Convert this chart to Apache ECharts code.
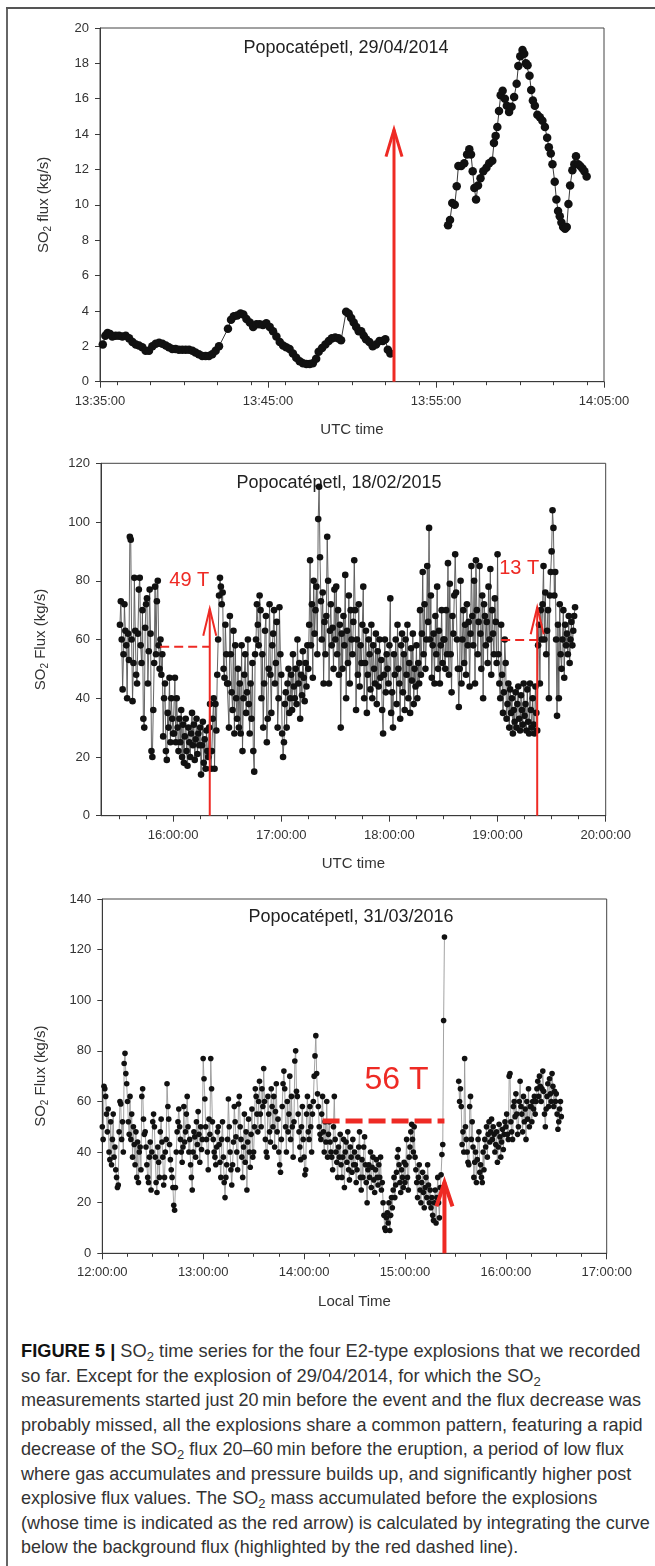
<!DOCTYPE html>
<html><head><meta charset="utf-8">
<script src="https://cdn.jsdelivr.net/npm/echarts@6/dist/echarts.min.js"></script>
<style>
html,body{margin:0;padding:0;background:#fff;}
#wrap{position:relative;width:655px;height:1566px;overflow:hidden;background:#fff;}
#chart{position:absolute;left:0;top:0;width:655px;height:1330px;}
#frameL{position:absolute;left:6px;top:7px;width:2px;height:1559px;background:#666;}
#frameT{position:absolute;left:6px;top:7px;width:649px;height:2px;background:#555;}
.cap{position:absolute;left:21px;white-space:nowrap;transform-origin:0 50%;font-family:'Liberation Sans',Arial,sans-serif;font-size:18.5px;color:#333;height:24px;line-height:24px;}
.cap b{color:#111;}
.cap sub{font-size:0.72em;vertical-align:-0.28em;line-height:0;}
</style></head>
<body><div id="wrap">
<div id="chart"></div>
<div id="frameL"></div><div id="frameT"></div>
<div id="caption">
<div class="cap"><b>FIGURE 5 |</b> SO<sub>2</sub> time series for the four E2-type explosions that we recorded</div>
<div class="cap">so far. Except for the explosion of 29/04/2014, for which the SO<sub>2</sub></div>
<div class="cap">measurements started just 20&#8201;min before the event and the flux decrease was</div>
<div class="cap">probably missed, all the explosions share a common pattern, featuring a rapid</div>
<div class="cap">decrease of the SO<sub>2</sub> flux 20–60&#8201;min before the eruption, a period of low flux</div>
<div class="cap">where gas accumulates and pressure builds up, and significantly higher post</div>
<div class="cap">explosive flux values. The SO<sub>2</sub> mass accumulated before the explosions</div>
<div class="cap">(whose time is indicated as the red arrow) is calculated by integrating the curve</div>
<div class="cap">below the background flux (highlighted by the red dashed line).</div>
</div>
</div>
<script>
// ---------------- DATA ----------------
// Panel 1: Popocatépetl 29/04/2014 (UTC)
const P1_TITLE = 'Popocatépetl, 29/04/2014';
const P1_XTICKS = ['13:35:00','13:45:00','13:55:00','14:05:00'];
const P1_YMAX = 20, P1_YSTEP = 2;
const P1A_TIME = ['13:35:10','13:35:19','13:35:27','13:35:36','13:35:44','13:35:56','13:36:08','13:36:20','13:36:32','13:36:44','13:36:56','13:37:08','13:37:19','13:37:31','13:37:43','13:37:55','13:38:07','13:38:19','13:38:31','13:38:43','13:38:55','13:39:06','13:39:18','13:39:30','13:39:42','13:39:54','13:40:06','13:40:18','13:40:30','13:40:41','13:40:53','13:41:05','13:41:17','13:41:29','13:41:41','13:41:53','13:42:05','13:42:37','13:42:48','13:42:58','13:43:10','13:43:22','13:43:32','13:43:43','13:43:55','13:44:07','13:44:19','13:44:30','13:44:42','13:44:54','13:45:06','13:45:18','13:45:30','13:45:42','13:45:54','13:46:05','13:46:17','13:46:29','13:46:41','13:46:53','13:47:05','13:47:17','13:47:29','13:47:40','13:47:52','13:48:01','13:48:13','13:48:25','13:48:37','13:48:48','13:49:00','13:49:12','13:49:21','13:49:39','13:49:48','13:49:57','13:50:06','13:50:15','13:50:24','13:50:33','13:50:42','13:50:50','13:51:02','13:51:14','13:51:26','13:51:38','13:51:50','13:51:59','13:52:08','13:52:17'];
const P1A_FLUX = [2.1,2.6,2.75,2.7,2.55,2.6,2.6,2.55,2.6,2.45,2.25,2.1,2.05,1.95,1.75,1.75,2.0,2.15,2.2,2.15,2.05,1.95,1.85,1.85,1.8,1.8,1.8,1.8,1.75,1.65,1.55,1.45,1.45,1.45,1.55,1.75,2.0,3.0,3.5,3.7,3.75,3.85,3.8,3.55,3.35,3.1,3.25,3.25,3.2,3.3,3.1,2.85,2.55,2.25,2.05,1.95,1.85,1.6,1.35,1.15,1.05,1.0,1.0,1.05,1.3,1.7,1.9,2.1,2.3,2.45,2.5,2.45,2.35,3.95,3.85,3.6,3.35,3.1,2.85,2.85,2.6,2.4,2.25,2.0,2.1,2.3,2.3,2.4,1.8,1.6];
const P1B_TIME = ['13:55:43','13:55:50','13:55:58','13:56:07','13:56:14','13:56:20','13:56:30','13:56:41','13:56:51','13:56:59','13:57:05','13:57:11','13:57:17','13:57:23','13:57:30','13:57:39','13:57:49','13:58:00','13:58:10','13:58:21','13:58:27','13:58:33','13:58:39','13:58:45','13:58:51','13:58:58','13:59:06','13:59:13','13:59:21','13:59:30','13:59:39','13:59:48','13:59:54','14:00:01','14:00:09','14:00:15','14:00:21','14:00:27','14:00:34','14:00:40','14:00:46','14:00:53','14:01:02','14:01:11','14:01:20','14:01:29','14:01:37','14:01:43','14:01:50','14:01:56','14:02:04','14:02:10','14:02:16','14:02:22','14:02:28','14:02:34','14:02:41','14:02:47','14:02:53','14:02:59','14:03:07','14:03:14','14:03:20','14:03:28','14:03:35','14:03:43','14:03:50','14:03:58'];
const P1B_FLUX = [8.85,9.15,10.1,10.0,11.05,12.2,12.2,12.35,12.85,13.15,12.85,11.9,10.95,10.3,11.1,11.5,11.9,12.1,12.35,12.5,13.5,13.9,14.4,15.3,16.2,16.45,16.0,15.6,15.25,15.55,16.1,16.85,17.85,18.4,18.75,18.55,18.0,17.9,17.3,16.5,15.9,15.6,15.1,14.95,14.75,14.4,13.8,13.25,12.9,12.3,11.3,10.3,9.65,9.35,9.0,8.75,8.65,8.75,10.05,11.1,11.95,12.3,12.75,12.3,12.2,12.05,11.9,11.6];
const P1_ARROW = ['13:52:30', 0, 14.25];

// Panel 2: Popocatépetl 18/02/2015 (UTC), sampled every 30 s
const P2_TITLE = 'Popocatépetl, 18/02/2015';
const P2_XTICKS = ['16:00:00','17:00:00','18:00:00','19:00:00','20:00:00'];
const P2_XMIN = '15:20:00', P2_XMAX = '20:00:00';
const P2_YMAX = 120, P2_YSTEP = 20;
const P2_START = '15:30:30', P2_STEP_S = 30;
const P2_FLUX = [
65,73,60,43,55,72,63,58,40,62,53,95,94,60,39,52,81,63,48,45,62,77,81,58,52,70,33,30,64,72,
74,45,56,77,62,22,20,36,52,78,55,73,80,58,50,60,48,55,27,40,45,22,19,35,30,47,25,40,33,28,
28,47,25,40,30,22,33,25,36,20,31,18,27,33,22,17,30,25,20,28,35,24,31,19,26,33,21,28,24,30,
14,24,32,18,26,16,29,22,20,30,38,16,22,33,40,16,38,29,48,60,75,81,78,72,76,50,47,65,55,45,
45,30,68,55,42,36,63,28,58,40,33,50,30,45,28,58,22,40,48,55,35,42,60,38,28,45,33,52,22,15,
55,60,72,65,58,75,70,40,55,30,45,63,68,25,33,50,72,48,35,58,62,70,45,52,66,30,40,71,55,48,
28,20,25,38,42,30,45,50,35,40,48,36,55,44,40,50,38,60,45,52,33,48,41,56,47,39,52,44,58,50,
65,87,58,72,47,80,62,70,78,55,101,112,88,73,60,76,45,66,55,68,95,80,45,63,72,58,64,50,77,60,
78,55,70,48,65,30,62,50,68,58,82,40,63,52,75,45,70,60,55,66,87,70,36,60,48,72,44,58,52,65,
78,40,52,63,35,48,60,55,43,65,40,58,50,45,62,38,56,44,60,47,53,36,28,48,60,42,55,50,45,58,
74,35,42,30,55,48,60,38,65,50,45,33,58,62,42,55,36,60,48,65,40,52,35,57,46,62,38,50,44,58,
40,52,45,70,48,62,83,55,72,50,60,85,66,98,60,75,47,58,62,45,68,55,78,50,63,45,58,70,52,60,
60,50,70,55,86,48,79,55,42,68,62,75,89,76,60,50,37,50,80,45,60,70,52,65,48,72,58,66,44,62,
85,68,58,80,45,87,70,55,66,85,62,50,75,40,72,68,58,66,52,78,60,84,48,70,62,55,74,66,52,89,
55,45,40,65,48,35,42,60,52,33,38,45,30,43,35,40,28,36,32,42,30,38,44,33,29,41,36,31,45,34,
38,29,43,32,28,45,36,30,40,31,28,44,35,29,58,65,45,70,60,72,85,60,76,55,63,70,40,75,83,90,
104,98,75,83,60,34,65,40,72,55,50,60,70,47,65,58,62,55,68,52,60,66,58,63,68,71];
const P2_ARROWS = [['16:20:20', 0, 70.5], ['19:22:00', 0, 71]];
const P2_DASHES = [['15:52:50', '16:20:20', 57.5], ['19:02:00', '19:22:00', 59.8]];
const P2_LABELS = [['16:09:00', 80, '49 T'], ['19:12:00', 84.3, '13 T']];

// Panel 3: Popocatépetl 31/03/2016 (local time), sampled every 30 s
const P3_TITLE = 'Popocatépetl, 31/03/2016';
const P3_XTICKS = ['12:00:00','13:00:00','14:00:00','15:00:00','16:00:00','17:00:00'];
const P3_YMAX = 140, P3_YSTEP = 20;
const P3A_START = '12:00:00', P3B_START = '15:32:00', P3_STEP_S = 30;
const P3A_FLUX = [
50,45,66,65,62,55,48,57,40,37,52,35,45,55,38,42,33,30,26,27,48,60,59,45,52,40,75,79,71,67,
60,52,47,62,45,55,38,50,43,35,48,30,44,28,40,42,33,62,65,53,47,48,42,35,30,28,38,44,25,40,
52,55,50,38,28,24,42,36,30,48,53,44,38,27,30,40,45,67,58,53,43,37,33,30,26,19,17,26,40,48,
52,57,50,45,40,36,42,58,44,48,55,62,50,40,45,35,30,25,40,48,46,38,52,43,56,47,36,50,41,45,
77,69,61,50,45,40,33,53,47,77,65,52,45,40,38,35,42,48,50,43,36,30,45,52,38,28,22,30,35,45,
61,50,40,33,27,35,44,58,52,46,40,33,59,62,50,45,38,30,42,55,36,48,25,44,53,40,34,47,57,38,
40,50,65,62,55,48,60,68,55,50,65,58,73,60,45,40,38,62,55,48,44,65,58,50,62,42,56,67,48,53,
40,35,32,45,58,67,72,65,50,40,60,48,55,70,45,62,50,38,52,76,80,64,62,55,48,42,37,50,58,45,
38,31,33,55,62,48,45,58,50,40,55,60,70,78,86,71,63,58,50,47,45,55,62,48,40,52,44,60,38,47,
52,44,40,38,33,50,62,45,40,36,30,42,38,47,35,30,38,45,26,40,44,36,48,33,29,42,38,32,45,35,
40,35,28,33,38,42,48,30,25,37,30,42,46,35,28,20,33,35,30,40,26,34,38,29,24,33,37,30,27,35,
30,38,25,28,20,15,10,9,14,16,12,20,9,15,22,18,25,30,22,27,32,38,41,35,28,24,33,30,26,36,
28,35,45,30,25,38,42,48,51,45,40,50,38,33,28,22,30,35,25,20,28,32,24,18,26,30,22,35,27,20,
25,18,22,15,13,20,25,12,22,30,20,14,26,31,39,43,92,125];
const P3B_FLUX = [
68,60,65,58,43,48,40,77,50,45,40,36,35,58,62,45,52,42,30,36,40,28,37,45,48,32,
35,30,28,40,33,45,42,50,38,47,52,44,48,53,45,50,47,40,43,48,36,42,51,46,38,44,49,41,47,52,
50,55,47,45,70,71,52,48,45,58,60,54,63,55,47,50,60,68,58,55,48,62,52,57,45,60,53,65,50,58,
58,52,60,57,62,55,60,65,68,62,70,66,60,65,72,64,55,50,57,62,67,58,69,63,60,71,66,58,64,60,
63,55,49,52,57,60,54];
const P3_ARROW = ['15:23:30', 0, 28];
const P3_DASH = ['14:11:00', '15:23:30', 52.3];
const P3_LABEL = ['14:55:00', 68.5, '56 T'];

// ---------------- HELPERS ----------------
const FONT = "'Liberation Sans', Arial, Helvetica, sans-serif";
const RED = '#ee2a24';
const AX = '#3a3a3a';
function toSec(s){const p=s.split(':').map(Number);return p[0]*3600+p[1]*60+(p[2]||0);}
function pad(n){return (n<10?'0':'')+n;}
function fmt(v){v=Math.round(v);return pad(Math.floor(v/3600))+':'+pad(Math.floor((v%3600)/60))+':'+pad(v%60);}
function zipT(times, vals){return times.map((t,i)=>[toSec(t), vals[i]]);}
function zipStep(start, step, vals){const s0=toSec(start);return vals.map((v,i)=>[s0+i*step, v]);}
function range(a,b,st){const r=[];for(let v=a;v<=b+1e-6;v+=st)r.push(v);return r;}

function xAxes(grid, min, max, majors, minorStep, name){
  const maj = majors.map(toSec);
  const minors = range(Math.ceil(min/minorStep)*minorStep, max, minorStep);
  return [{
    gridIndex:grid, type:'value', min:min, max:max, position:'bottom',
    axisLine:{show:true,onZero:false,lineStyle:{color:AX,width:1}},
    axisTick:{show:true,length:6,customValues:maj,lineStyle:{color:AX}},
    axisLabel:{customValues:maj,formatter:fmt,fontSize:13,color:'#333',margin:13,fontFamily:FONT,showMinLabel:true,showMaxLabel:true,hideOverlap:false},
    splitLine:{show:false},
    name:name, nameLocation:'middle', nameGap:41,
    nameTextStyle:{fontSize:15,color:'#333',fontFamily:FONT}
  },{
    gridIndex:grid, type:'value', min:min, max:max, position:'bottom',
    axisLine:{show:false,onZero:false},
    axisTick:{show:true,length:3.5,customValues:minors,lineStyle:{color:AX}},
    axisLabel:{show:false}, splitLine:{show:false}
  }];
}
function yAxis(grid, max, step, word, gap){
  return {
    gridIndex:grid, type:'value', min:0, max:max, interval:step,
    axisLine:{show:true,lineStyle:{color:AX}},
    axisTick:{show:true,length:5,lineStyle:{color:AX}},
    axisLabel:{fontSize:13,color:'#333',margin:11,fontFamily:FONT},
    splitLine:{show:false},
    name:'{a|SO}{s|2}{a| '+word+' (kg/s)}', nameLocation:'middle', nameGap:gap, nameRotate:90,
    nameTextStyle:{rich:{a:{fontSize:15,color:'#333',fontFamily:FONT},s:{fontSize:10,color:'#333',fontFamily:FONT,padding:[9,0,0,0]}}}
  };
}
function lineSeries(xi, yi, data, size, lineColor){
  return {type:'line', xAxisIndex:xi, yAxisIndex:yi, data:data, symbol:'circle', symbolSize:size,
    showSymbol:true, showAllSymbol:true, itemStyle:{color:'#111',borderWidth:0},
    lineStyle:{color:lineColor,width:0.9}, animation:false, silent:true, connectNulls:false, z:2};
}
function arrowSeries(xi, yi, a, w, hw, hl){
  return {type:'custom', xAxisIndex:xi, yAxisIndex:yi, z:10, silent:true, animation:false, clip:false,
    data:[[toSec(a[0]), a[1], a[2]]], encode:{x:0, y:[1,2]},
    renderItem:function(params, api){
      const x=api.value(0); const p0=api.coord([x, api.value(1)]); const p1=api.coord([x, api.value(2)]);
      return {type:'group', children:[
        {type:'line', shape:{x1:p0[0],y1:p0[1],x2:p1[0],y2:p1[1]}, style:{stroke:RED,lineWidth:w}},
        {type:'polyline', shape:{points:[[p1[0]-hw,p1[1]+hl],[p1[0],p1[1]],[p1[0]+hw,p1[1]+hl]]}, style:{stroke:RED,lineWidth:w,fill:null}}
      ]};
    }};
}
function dashSeries(xi, yi, d, w, dash){
  return {type:'line', xAxisIndex:xi, yAxisIndex:yi, data:[[toSec(d[0]), d[2]],[toSec(d[1]), d[2]]],
    symbol:'none', lineStyle:{color:RED,width:w,type:dash}, z:9, silent:true, animation:false};
}
function textSeries(xi, yi, t, size){
  return {type:'custom', xAxisIndex:xi, yAxisIndex:yi, z:11, silent:true, animation:false, clip:false,
    data:[[toSec(t[0]), t[1]]], encode:{x:0,y:1},
    renderItem:function(params, api){
      const p=api.coord([api.value(0), api.value(1)]);
      return {type:'text', x:p[0], y:p[1], style:{text:t[2], fill:RED, fontSize:size, fontFamily:FONT, align:'center', verticalAlign:'middle'}};
    }};
}

// ---------------- CHART ----------------
const chart = echarts.init(document.getElementById('chart'), null, {renderer:'canvas'});
const grids = [
  {left:100, top:28, width:504, height:353.7},
  {left:101, top:463.3, width:504.7, height:352.4},
  {left:102.3, top:899, width:504.4, height:354.3}
].map(g=>Object.assign(g,{show:true,borderColor:'#444',borderWidth:1,backgroundColor:'transparent',containLabel:false}));

const xA = [].concat(
  xAxes(0, toSec(P1_XTICKS[0]), toSec(P1_XTICKS[3]), P1_XTICKS, 120, 'UTC time'),
  xAxes(1, toSec(P2_XMIN), toSec(P2_XMAX), P2_XTICKS, 900, 'UTC time'),
  xAxes(2, toSec(P3_XTICKS[0]), toSec(P3_XTICKS[5]), P3_XTICKS, 900, 'Local Time')
);
const yA = [yAxis(0, P1_YMAX, P1_YSTEP, 'flux', 47), yAxis(1, P2_YMAX, P2_YSTEP, 'Flux', 51), yAxis(2, P3_YMAX, P3_YSTEP, 'Flux', 52)];

const series = [
  lineSeries(0,0, zipT(P1A_TIME,P1A_FLUX), 8.5, '#222'),
  lineSeries(0,0, zipT(P1B_TIME,P1B_FLUX), 8.5, '#222'),
  arrowSeries(0,0, P1_ARROW, 3, 8, 27),
  lineSeries(2,1, zipStep(P2_START,P2_STEP_S,P2_FLUX), 6.6, '#555'),
  dashSeries(2,1, P2_DASHES[0], 2, [9,5]),
  dashSeries(2,1, P2_DASHES[1], 2, [9,5]),
  arrowSeries(2,1, P2_ARROWS[0], 2, 6.5, 27),
  arrowSeries(2,1, P2_ARROWS[1], 2, 6.5, 27),
  textSeries(2,1, P2_LABELS[0], 20),
  textSeries(2,1, P2_LABELS[1], 20),
  lineSeries(4,2, zipStep(P3A_START,P3_STEP_S,P3A_FLUX), 5.6, '#999'),
  lineSeries(4,2, zipStep(P3B_START,P3_STEP_S,P3B_FLUX), 5.6, '#999'),
  dashSeries(4,2, P3_DASH, 5, [17,6]),
  arrowSeries(4,2, P3_ARROW, 4, 8, 24),
  textSeries(4,2, P3_LABEL, 32)
];

const titleText = (txt, x, y) => ({type:'text', x:x, y:y, silent:true, style:{text:txt, fill:'#222', fontSize:18, fontFamily:FONT, align:'center', verticalAlign:'middle'}});

chart.setOption({
  animation:false,
  backgroundColor:'transparent',
  textStyle:{fontFamily:FONT},
  grid:grids, xAxis:xA, yAxis:yA, series:series,
  graphic:[titleText(P1_TITLE,346,48.5), titleText(P2_TITLE,339,482.7), titleText(P3_TITLE,351,916.7)]
});

// ---------------- CAPTION ----------------
const CAP_END = [641,541,641,643,624,631,597,650,518];
document.querySelectorAll('.cap').forEach((el,i)=>{
  el.style.top = (1339 + 24.5*i) + 'px';
  const w = el.offsetWidth;
  el.style.transform = 'scaleX(' + ((CAP_END[i]-21)/w).toFixed(4) + ')';
});
</script>
</body></html>
